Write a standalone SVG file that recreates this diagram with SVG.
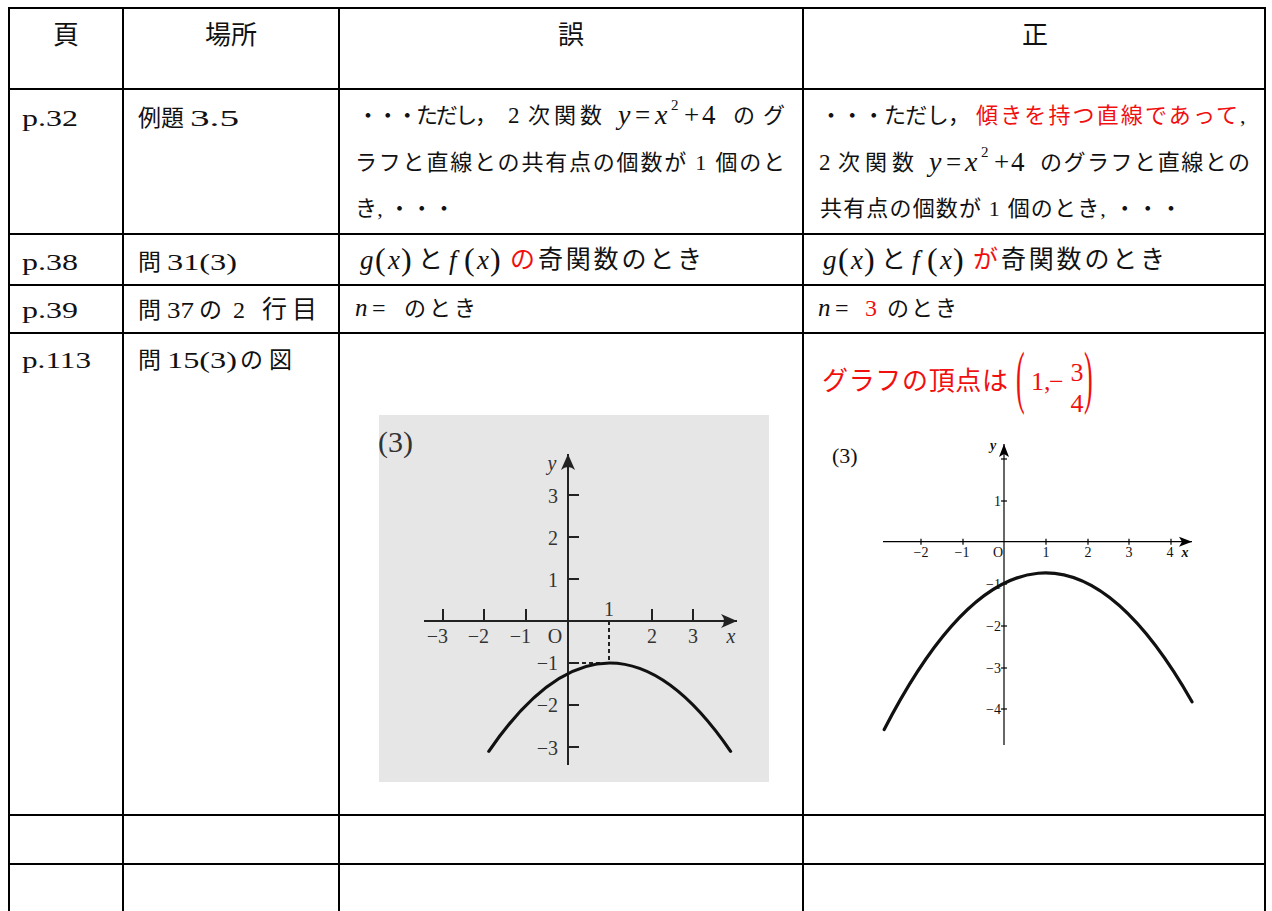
<svg xmlns="http://www.w3.org/2000/svg" width="1272" height="911" viewBox="0 0 1272 911">
<style>
.t{font-family:"Liberation Serif","Noto Sans CJK JP",serif;font-size:22px;fill:#111}
.h{font-size:26px}
.big{font-size:25px}
.m{font-family:"Liberation Serif",serif;font-style:italic;font-size:28px;fill:#111}
.u{font-family:"Liberation Serif",serif;font-size:27px;fill:#111}
.sup{font-family:"Liberation Serif",serif;font-size:15px;fill:#111}
.lat{font-family:"Liberation Serif",serif;font-size:24px;fill:#111}
.r{fill:#f01010}
.grid{stroke:#000;stroke-width:2;fill:none}
.ga{stroke:#222;stroke-width:2;fill:none}
.gl{font-family:"Liberation Serif",serif;font-size:20px;fill:#333}
.gb{stroke:#000;stroke-width:1.2;fill:none}
.sl{font-family:"Liberation Serif",serif;font-size:14px;fill:#111}
.curve{stroke:#111;stroke-width:3.2;fill:none;stroke-linecap:round}
</style>
<defs>
<marker id="arrL" viewBox="-20 -10 22 20" refX="0" refY="0" markerWidth="22" markerHeight="20" markerUnits="userSpaceOnUse" orient="auto">
<path d="M0,0 L-16,-7 Q-10,0 -16,7 Z" fill="#222"/>
</marker>
<marker id="arrR" viewBox="-16 -8 18 16" refX="0" refY="0" markerWidth="18" markerHeight="16" markerUnits="userSpaceOnUse" orient="auto">
<path d="M0,0 L-13,-5 L-10,0 L-13,5 Z" fill="#000"/>
</marker>
</defs>
<rect width="1272" height="911" fill="#fff"/>

<g id="table-grid" class="grid">
<line x1="8" y1="8" x2="1266" y2="8"/>
<line x1="8" y1="89" x2="1266" y2="89"/>
<line x1="8" y1="234" x2="1266" y2="234"/>
<line x1="8" y1="285" x2="1266" y2="285"/>
<line x1="8" y1="333" x2="1266" y2="333"/>
<line x1="8" y1="815" x2="1266" y2="815"/>
<line x1="8" y1="864" x2="1266" y2="864"/>
<line x1="9" y1="7" x2="9" y2="911"/>
<line x1="123" y1="8" x2="123" y2="911"/>
<line x1="339" y1="8" x2="339" y2="911"/>
<line x1="803" y1="8" x2="803" y2="911"/>
<line x1="1265" y1="7" x2="1265" y2="911"/>
</g>

<g id="header">
<text class="t h" x="66" y="44" text-anchor="middle">頁</text>
<text class="t h" x="231" y="44" text-anchor="middle">場所</text>
<text class="t h" x="571" y="44" text-anchor="middle">誤</text>
<text class="t h" x="1035" y="44" text-anchor="middle">正</text>
</g>

<g id="row-p32">
<text class="lat" x="22" y="126" textLength="56" lengthAdjust="spacingAndGlyphs">p.32</text>
<text class="t" x="138" y="126" style="font-size:23px">例題</text>
<text class="lat" x="190" y="126" textLength="49" lengthAdjust="spacingAndGlyphs">3.5</text>
<text class="t" x="357" y="123" textLength="140">・・・ただし，</text>
<text class="u" x="508" y="123" style="font-size:23px">2</text>
<text class="t" x="528" y="123" textLength="74">次関数</text>
<text class="m" x="618" y="124">y</text>
<text class="u" x="635" y="124">=</text>
<text class="m" x="655" y="124">x</text>
<text class="sup" x="671" y="110">2</text>
<text class="u" x="684" y="124">+</text>
<text class="u" x="702" y="124">4</text>
<text class="t" x="733" y="123" textLength="52">のグ</text>
<text class="t" x="355" y="170" textLength="430">ラフと直線との共有点の個数が 1 個のと</text>
<text class="t" x="355" y="216" textLength="100">き, ・・・</text>
<text class="t" x="820" y="123" textLength="150">・・・ただし，</text>
<text class="t r" x="976" y="123" textLength="262">傾きを持つ直線であって</text>
<text class="t" x="1240" y="123">,</text>
<text class="u" x="819" y="170" style="font-size:23px">2</text>
<text class="t" x="838" y="170" textLength="76">次関数</text>
<text class="m" x="929" y="171">y</text>
<text class="u" x="946" y="171">=</text>
<text class="m" x="965" y="171">x</text>
<text class="sup" x="981" y="157">2</text>
<text class="u" x="994" y="171">+</text>
<text class="u" x="1011" y="171">4</text>
<text class="t" x="1040" y="170" textLength="210">のグラフと直線との</text>
<text class="t" x="820" y="216" textLength="362">共有点の個数が 1 個のとき, ・・・</text>
</g>

<g id="row-p38">
<text class="lat" x="22" y="270" textLength="56" lengthAdjust="spacingAndGlyphs">p.38</text>
<text class="t" x="138" y="270" style="font-size:23px">問</text>
<text class="lat" x="167" y="270" textLength="70" lengthAdjust="spacingAndGlyphs">31(3)</text>
<text class="m" x="360" y="269" style="font-size:27px">g</text>
<text class="u" x="375" y="270" style="font-size:32px">(</text>
<text class="m" x="388" y="269" style="font-size:27px">x</text>
<text class="u" x="401" y="270" style="font-size:32px">)</text>
<text class="t big" x="418" y="268">と</text>
<text class="m" x="449" y="269" style="font-size:27px">f</text>
<text class="u" x="464" y="270" style="font-size:32px">(</text>
<text class="m" x="477" y="269" style="font-size:27px">x</text>
<text class="u" x="490" y="270" style="font-size:32px">)</text>
<text class="t big r" x="510" y="268">の</text>
<text class="t big" x="538" y="268" textLength="164">奇関数のとき</text>
<text class="m" x="823" y="269" style="font-size:27px">g</text>
<text class="u" x="838" y="270" style="font-size:32px">(</text>
<text class="m" x="851" y="269" style="font-size:27px">x</text>
<text class="u" x="864" y="270" style="font-size:32px">)</text>
<text class="t big" x="881" y="268">と</text>
<text class="m" x="912" y="269" style="font-size:27px">f</text>
<text class="u" x="927" y="270" style="font-size:32px">(</text>
<text class="m" x="940" y="269" style="font-size:27px">x</text>
<text class="u" x="953" y="270" style="font-size:32px">)</text>
<text class="t big r" x="973" y="268">が</text>
<text class="t big" x="1001" y="268" textLength="164">奇関数のとき</text>
</g>

<g id="row-p39">
<text class="lat" x="22" y="318" textLength="56" lengthAdjust="spacingAndGlyphs">p.39</text>
<text class="t" x="138" y="318" style="font-size:23px">問</text>
<text class="lat" x="167" y="318" textLength="27" lengthAdjust="spacingAndGlyphs">37</text>
<text class="t" x="199" y="318" style="font-size:23px">の</text>
<text class="lat" x="233" y="318">2</text>
<text class="t" x="262" y="318" style="font-size:25px">行</text>
<text class="t" x="292" y="318" style="font-size:25px">目</text>
<text class="m" x="355" y="316" style="font-size:25px">n</text>
<text class="u" x="372" y="316" style="font-size:24px">=</text>
<text class="t" x="404" y="316" textLength="72">のとき</text>
<text class="m" x="818" y="316" style="font-size:25px">n</text>
<text class="u" x="835" y="316" style="font-size:24px">=</text>
<text class="u r" x="865" y="316" style="font-size:24px">3</text>
<text class="t" x="887" y="316" textLength="70">のとき</text>
</g>

<g id="row-p113">
<text class="lat" x="22" y="368" textLength="69" lengthAdjust="spacingAndGlyphs">p.113</text>
<text class="t" x="138" y="368" style="font-size:23px">問</text>
<text class="lat" x="167" y="368" textLength="70" lengthAdjust="spacingAndGlyphs">15(3)</text>
<text class="t" x="240" y="368" style="font-size:23px" textLength="52">の図</text>
</g>

<g id="graph-wrong">
<rect x="379" y="415" width="390" height="367" fill="#e6e6e6"/>
<text class="gl" x="378" y="452" style="font-size:30px">(3)</text>
<g class="ga">
<line x1="443" y1="609" x2="443" y2="621"/>
<line x1="484" y1="609" x2="484" y2="621"/>
<line x1="526" y1="609" x2="526" y2="621"/>
<line x1="652" y1="609" x2="652" y2="621"/>
<line x1="693" y1="609" x2="693" y2="621"/>
<line x1="568" y1="495" x2="579" y2="495"/>
<line x1="568" y1="537" x2="579" y2="537"/>
<line x1="568" y1="579" x2="579" y2="579"/>
<line x1="568" y1="663" x2="579" y2="663"/>
<line x1="568" y1="705" x2="579" y2="705"/>
<line x1="568" y1="747" x2="579" y2="747"/>
<line x1="609" y1="621" x2="609" y2="663" stroke-dasharray="4 3"/>
<line x1="568" y1="663" x2="609" y2="663" stroke-dasharray="4 3"/>
</g>
<g class="ga">
<line x1="424" y1="621" x2="737" y2="621" marker-end="url(#arrL)"/>
<line x1="568" y1="765" x2="568" y2="454" marker-end="url(#arrL)"/>
</g>
<g class="gl">
<text x="448" y="643" text-anchor="end">−3</text>
<text x="489" y="643" text-anchor="end">−2</text>
<text x="531" y="643" text-anchor="end">−1</text>
<text x="555" y="643" text-anchor="middle">O</text>
<text x="652" y="643" text-anchor="middle">2</text>
<text x="693" y="643" text-anchor="middle">3</text>
<text x="731" y="643" text-anchor="middle" font-style="italic">x</text>
<text x="609" y="616" text-anchor="middle">1</text>
<text x="558" y="503" text-anchor="end">3</text>
<text x="558" y="545" text-anchor="end">2</text>
<text x="558" y="587" text-anchor="end">1</text>
<text x="558" y="670" text-anchor="end">−1</text>
<text x="558" y="712" text-anchor="end">−2</text>
<text x="558" y="755" text-anchor="end">−3</text>
<text x="552" y="470" text-anchor="middle" font-style="italic">y</text>
</g>
<path class="curve" d="M488.8,751.3 Q609.7,574.7 730.6,751.3"/>
</g>

<g id="graph-correct">
<text class="t r" x="822" y="390" style="font-size:26px" textLength="186">グラフの頂点は</text>
<text class="u r" transform="translate(1016,400) scale(1,2.7)" style="font-size:26px">(</text>
<text class="u r" x="1031" y="390" style="font-size:26px">1,</text>
<text class="u r" x="1049" y="390" style="font-size:26px">−</text>
<text class="u r" x="1077" y="381" style="font-size:26px" text-anchor="middle">3</text>
<text class="u r" x="1077" y="412" style="font-size:26px" text-anchor="middle">4</text>
<text class="u r" transform="translate(1084,400) scale(1,2.7)" style="font-size:26px">)</text>
<text class="u" x="832" y="463" style="font-size:22px">(3)</text>
<g class="gb">
<line x1="883" y1="541.7" x2="1192" y2="541.7" marker-end="url(#arrR)"/>
<line x1="1004" y1="745" x2="1004" y2="444" marker-end="url(#arrR)"/>
<line x1="921" y1="538.7" x2="921" y2="544.7"/>
<line x1="963" y1="538.7" x2="963" y2="544.7"/>
<line x1="1046" y1="538.7" x2="1046" y2="544.7"/>
<line x1="1088" y1="538.7" x2="1088" y2="544.7"/>
<line x1="1129" y1="538.7" x2="1129" y2="544.7"/>
<line x1="1171" y1="538.7" x2="1171" y2="544.7"/>
<line x1="1001" y1="459" x2="1007" y2="459"/>
<line x1="1001" y1="501" x2="1007" y2="501"/>
<line x1="1001" y1="584" x2="1007" y2="584"/>
<line x1="1001" y1="626" x2="1007" y2="626"/>
<line x1="1001" y1="668" x2="1007" y2="668"/>
<line x1="1001" y1="709" x2="1007" y2="709"/>
</g>
<g class="sl">
<text x="921" y="557" text-anchor="middle">−2</text>
<text x="962" y="557" text-anchor="middle">−1</text>
<text x="998" y="557" text-anchor="middle">O</text>
<text x="1046" y="557" text-anchor="middle">1</text>
<text x="1088" y="557" text-anchor="middle">2</text>
<text x="1129" y="557" text-anchor="middle">3</text>
<text x="1170" y="557" text-anchor="middle">4</text>
<text x="1185" y="557" text-anchor="middle" font-style="italic" font-weight="bold">x</text>
<text x="993" y="450" text-anchor="middle" font-style="italic" font-weight="bold">y</text>
<text x="1001" y="506" text-anchor="end">1</text>
<text x="1001" y="589" text-anchor="end">−1</text>
<text x="1001" y="631" text-anchor="end">−2</text>
<text x="1001" y="673" text-anchor="end">−3</text>
<text x="1001" y="714" text-anchor="end">−4</text>
</g>
<path class="curve" d="M884.2,729.5 Q1038.1,430.9 1192,701.8"/>
</g>
</svg>
